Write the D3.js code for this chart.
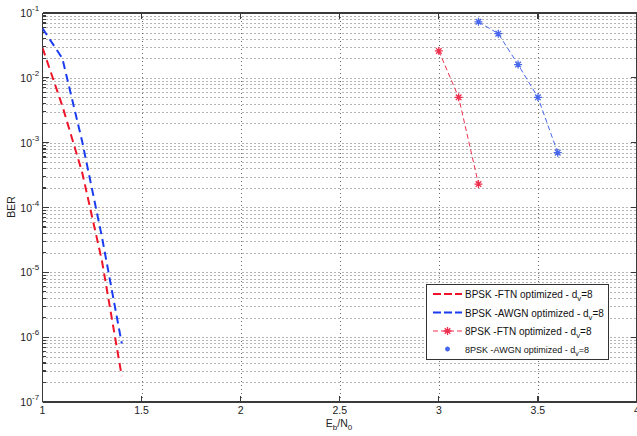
<!DOCTYPE html>
<html><head><meta charset="utf-8">
<script src="https://cdn.jsdelivr.net/npm/d3@7"></script>
<style>body{margin:0;background:#fff}svg{display:block;font-family:"Liberation Sans",Arial,sans-serif}</style>
</head><body>
<script>
// ---- data ----
const xBpsk = [1.0, 1.1, 1.2, 1.3, 1.4];
const berBpskFtn = [2.9e-2, 3.7e-3, 3.5e-4, 1.5e-5, 2.5e-7];
const berBpskAwgn = [5.8e-2, 2.0e-2, 1.05e-3, 3.5e-5, 8e-7];
const x8pskFtn = [3.0, 3.1, 3.2];
const ber8pskFtn = [2.6e-2, 5.0e-3, 2.3e-4];
const x8pskAwgn = [3.2, 3.3, 3.4, 3.5, 3.6];
const ber8pskAwgn = [7.3e-2, 4.8e-2, 1.6e-2, 5.0e-3, 7.0e-4];
const xTicks = [1, 1.5, 2, 2.5, 3, 3.5, 4];
const xTickLabels = ["1", "1.5", "2", "2.5", "3", "3.5", "4"];
const yExps = [-1, -2, -3, -4, -5, -6, -7];
const legendLabels = ["BPSK -FTN optimized - d", "BPSK -AWGN optimized - d", "8PSK -FTN optimized - d", "8PSK -AWGN optimized - d"];

const W = 637, H = 436;
const m = {l: 42.5, r: 637, t: 13, b: 402};
const svg = d3.select("body").append("svg").attr("width", W).attr("height", H);
svg.append("rect").attr("width", W).attr("height", H).attr("fill", "#fff");

const x = d3.scaleLinear().domain([1, 4]).range([m.l, m.r]);
const y = d3.scaleLog().domain([1e-7, 1e-1]).range([m.b, m.t]);

// grid
const g = svg.append("g");
const minor = [];
for (let e = -7; e < -1; e++) for (let k = 1; k <= 9; k++) minor.push(k * Math.pow(10, e));
minor.push(1e-1);
g.selectAll("line.hy").data(minor).enter().append("line")
  .attr("x1", m.l).attr("x2", m.r).attr("y1", d => Math.round(y(d)) + 0.5).attr("y2", d => Math.round(y(d)) + 0.5)
  .attr("stroke", "#6a6a6a").attr("stroke-width", 1).attr("stroke-dasharray", "1,3");
g.selectAll("line.vx").data(xTicks.slice(1)).enter().append("line")
  .attr("x1", d => Math.round(x(d)) + 0.5).attr("x2", d => Math.round(x(d)) + 0.5).attr("y1", m.t).attr("y2", m.b)
  .attr("stroke", "#6a6a6a").attr("stroke-width", 1).attr("stroke-dasharray", "1,3");

// axes box
const ax = svg.append("g").attr("stroke", "#3a3a3a").attr("stroke-width", 1.2).attr("shape-rendering", "crispEdges");
ax.append("line").attr("x1", m.l).attr("x2", m.l).attr("y1", m.t).attr("y2", m.b);
ax.append("line").attr("x1", m.l).attr("x2", W).attr("y1", m.b).attr("y2", m.b);
ax.append("line").attr("x1", m.l).attr("x2", W).attr("y1", m.t).attr("y2", m.t);
ax.append("line").attr("x1", m.r).attr("x2", m.r).attr("y1", m.t).attr("y2", m.b);
// y ticks
yExps.forEach(e => {
  const yy = y(Math.pow(10, e));
  ax.append("line").attr("x1", m.l).attr("x2", m.l + 6).attr("y1", yy).attr("y2", yy);
  ax.append("line").attr("x1", m.r - 6).attr("x2", m.r).attr("y1", yy).attr("y2", yy);
});
minor.forEach(v => {
  ax.append("line").attr("x1", m.l).attr("x2", m.l + 3).attr("y1", y(v)).attr("y2", y(v));
});
xTicks.forEach(t => {
  ax.append("line").attr("x1", x(t)).attr("x2", x(t)).attr("y1", m.b).attr("y2", m.b - 6);
  ax.append("line").attr("x1", x(t)).attr("x2", x(t)).attr("y1", m.t).attr("y2", m.t + 6);
});

// tick labels
const tl = svg.append("g").attr("fill", "#222").attr("font-size", 10.5);
xTicks.forEach((t, i) => {
  tl.append("text").attr("x", x(t)).attr("y", 414).attr("text-anchor", "middle").text(xTickLabels[i]);
});
yExps.forEach(e => {
  const yy = y(Math.pow(10, e));
  tl.append("text").attr("x", 32).attr("y", yy + 4).attr("text-anchor", "end").text("10");
  tl.append("text").attr("x", 32).attr("y", yy - 2).attr("font-size", 8).text(String(e));
});
// axis labels
const xl = svg.append("text").attr("x", 339).attr("y", 427).attr("text-anchor", "middle").attr("font-size", 10.5).attr("fill", "#222");
xl.append("tspan").text("E");
xl.append("tspan").attr("font-size", 8).attr("dy", 3).text("b");
xl.append("tspan").attr("dy", -3).text("/N");
xl.append("tspan").attr("font-size", 8).attr("dy", 3).text("0");
svg.append("text").attr("transform", "translate(15,207) rotate(-90)").attr("text-anchor", "middle")
  .attr("font-size", 10.5).attr("fill", "#222").text("BER");

// lines
const line = d3.line().x(d => x(d[0])).y(d => y(d[1]));
svg.append("clipPath").attr("id", "c").append("rect").attr("x", m.l).attr("y", m.t).attr("width", m.r - m.l).attr("height", m.b - m.t);
const pl = svg.append("g").attr("clip-path", "url(#c)");
const series = [
  {xs: xBpsk, ys: berBpskFtn, color: "#f0142a", w: 2, dash: "8,5", marker: false},
  {xs: xBpsk, ys: berBpskAwgn, color: "#1a3cf0", w: 2, dash: "8,5", marker: false},
  {xs: x8pskFtn, ys: ber8pskFtn, color: "#ee3050", w: 1, dash: "5,3", marker: true},
  {xs: x8pskAwgn, ys: ber8pskAwgn, color: "#4766ee", w: 1, dash: "5,3", marker: true}
];
function star(sel, cx, cy, color, r) {
  const p = `M${cx - r},${cy}L${cx + r},${cy}M${cx},${cy - r}L${cx},${cy + r}` +
    `M${cx - r * 0.7},${cy - r * 0.7}L${cx + r * 0.7},${cy + r * 0.7}M${cx - r * 0.7},${cy + r * 0.7}L${cx + r * 0.7},${cy - r * 0.7}`;
  sel.append("path").attr("d", p).attr("stroke", color).attr("stroke-width", 1.3).attr("fill", "none");
}
series.forEach(s => {
  const data = s.xs.map((v, i) => [v, s.ys[i]]);
  pl.append("path").datum(data).attr("d", line).attr("fill", "none").attr("stroke", s.color)
    .attr("stroke-width", s.w).attr("stroke-dasharray", s.dash);
  if (s.marker) data.forEach(d => star(pl, x(d[0]), y(d[1]), s.color, 4));
});

// legend
const lg = svg.append("g");
lg.append("rect").attr("x", 426.5).attr("y", 284.5).attr("width", 182).attr("height", 75)
  .attr("fill", "#fff").attr("stroke", "#333").attr("stroke-width", 1);
const rows = [294, 312.5, 331, 349];
series.forEach((s, i) => {
  const yy = rows[i];
  if (i < 3) {
    lg.append("line").attr("x1", 433).attr("x2", 462).attr("y1", yy).attr("y2", yy)
      .attr("stroke", s.color).attr("stroke-width", s.w).attr("stroke-dasharray", i < 2 ? "8,3" : "5,3");
  }
  if (s.marker) star(lg, 447.5, yy, s.color, i === 3 ? 2.5 : 4);
  const fs = i === 3 ? 9 : 10;
  const t = lg.append("text").attr("x", 465).attr("y", yy + 4).attr("font-size", fs).attr("fill", "#111");
  t.append("tspan").text(legendLabels[i]);
  t.append("tspan").attr("font-size", fs * 0.78).attr("dy", 3).text("v");
  t.append("tspan").attr("dy", -3).text("=8");
});
</script>
</body></html>
